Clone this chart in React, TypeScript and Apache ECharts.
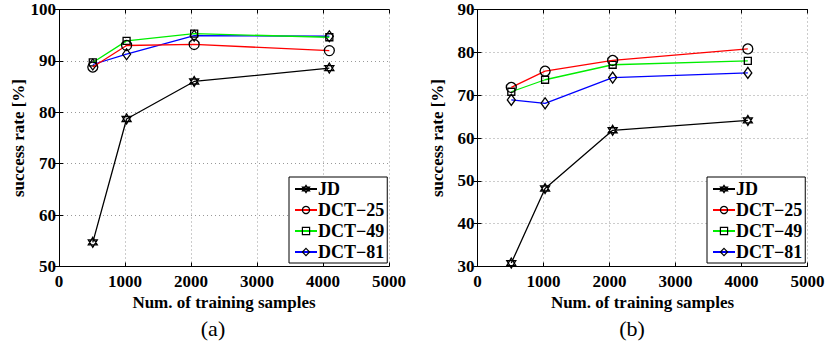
import React, { useEffect, useRef } from "react";
import * as echarts from "echarts";

const samples = [512, 1024, 2048, 4096];
const xTicks = [0, 1000, 2000, 3000, 4000, 5000];
const seriesNames = ["JD", "DCT\u221225", "DCT\u221249", "DCT\u221281"];

const jdA = [54.7, 78.7, 86.0, 88.6];
const dct25A = [88.8, 93.0, 93.2, 92.0];
const dct49A = [89.7, 93.9, 95.3, 94.6];
const dct81A = [89.3, 91.3, 94.9, 94.8];

const jdB = [30.8, 48.2, 61.8, 64.1];
const dct25B = [71.8, 75.6, 78.1, 80.8];
const dct49B = [70.8, 73.6, 77.1, 78.0];
const dct81B = [68.9, 68.1, 74.1, 75.2];

const lineColors = ["#000000", "#ff0000", "#00ee00", "#0000ff"];
const hexagram =
  "path://M5,0 L9.33,7.5 L0.67,7.5 Z M5,10 L0.67,2.5 L9.33,2.5 Z";
const symbols = [hexagram, "circle", "rect", "diamond"];
const symbolSizes: any[] = [[9, 10], 10, 7, [8, 11]];

const FONT = "Liberation Serif";

export default function App() {
  const ref = useRef<HTMLDivElement>(null);
  useEffect(() => {
    if (!ref.current) return;
    const chart = echarts.init(ref.current, undefined, { renderer: "svg" });
    const grids = [
      { left: 59, top: 9.5, width: 330, height: 257 },
      { left: 477.5, top: 9.5, width: 330, height: 257 },
    ];
    const yRanges = [
      [50, 100],
      [30, 90],
    ];
    const data = [
      [jdA, dct25A, dct49A, dct81A],
      [jdB, dct25B, dct49B, dct81B],
    ];
    const labelStyle = {
      fontFamily: FONT,
      fontWeight: "bold" as const,
      fontSize: 17,
      color: "#000",
    };
    const xAxes: any[] = [];
    const yAxes: any[] = [];
    const series: any[] = [];
    [0, 1].forEach((g) => {
      xAxes.push({
        type: "value",
        gridIndex: g,
        min: xTicks[0],
        max: xTicks[xTicks.length - 1],
        interval: 1000,
        name: "Num. of training samples",
        nameLocation: "middle",
        nameGap: 20,
        nameTextStyle: { ...labelStyle, verticalAlign: "top" },
        axisLine: { show: true, lineStyle: { color: "#000", width: 1 } },
        axisTick: { show: true, inside: true, length: 4, lineStyle: { color: "#000" } },
        axisLabel: {
          ...labelStyle,
          margin: 6,
          formatter: (v: number) => String(v),
        },
        splitLine: { show: true, lineStyle: { color: "#999", type: [1, 3], width: 1 } },
      });
      xAxes.push({
        type: "value",
        gridIndex: g,
        position: "top",
        min: xTicks[0],
        max: xTicks[xTicks.length - 1],
        interval: 1000,
        axisLine: { show: true, lineStyle: { color: "#000", width: 1 } },
        axisTick: { show: true, inside: true, length: 4, lineStyle: { color: "#000" } },
        axisLabel: { show: false },
        splitLine: { show: false },
      });
      yAxes.push({
        type: "value",
        gridIndex: g,
        min: yRanges[g][0],
        max: yRanges[g][1],
        interval: 10,
        name: "success rate [%]",
        nameLocation: "middle",
        nameGap: 32,
        nameRotate: 90,
        nameTextStyle: { ...labelStyle },
        axisLine: { show: true, lineStyle: { color: "#000", width: 1 } },
        axisTick: { show: true, inside: true, length: 4, lineStyle: { color: "#000" } },
        axisLabel: { ...labelStyle, margin: 3, formatter: (v: number) => String(v) },
        splitLine: { show: true, lineStyle: { color: "#999", type: [1, 3], width: 1 } },
      });
      yAxes.push({
        type: "value",
        gridIndex: g,
        position: "right",
        min: yRanges[g][0],
        max: yRanges[g][1],
        interval: 10,
        axisLine: { show: true, lineStyle: { color: "#000", width: 1 } },
        axisTick: { show: true, inside: true, length: 4, lineStyle: { color: "#000" } },
        axisLabel: { show: false },
        splitLine: { show: false },
      });
      seriesNames.forEach((name, i) => {
        series.push({
          type: "line",
          name,
          xAxisIndex: g * 2,
          yAxisIndex: g * 2,
          data: samples.map((x, k) => [x, data[g][i][k]]),
          symbol: symbols[i],
          symbolSize: symbolSizes[i],
          showAllSymbol: true,
          lineStyle: { color: lineColors[i], width: 1.3 },
          itemStyle: { color: "transparent", borderColor: "#000", borderWidth: 1.3 },
          z: 2 + (3 - i),
        });
      });
    });
    const legendBase = {
      orient: "vertical",
      data: seriesNames,
      backgroundColor: "#fff",
      borderColor: "#000",
      borderWidth: 1,
      borderRadius: 0,
      padding: [3, 3, 2, 5],
      itemWidth: 22,
      itemHeight: 9,
      itemGap: 3,
      selectedMode: false,
      itemStyle: { color: "transparent", borderColor: "#000", borderWidth: 1.2 },
      textStyle: {
        fontFamily: FONT,
        fontWeight: "bold",
        fontSize: 18,
        lineHeight: 18,
        color: "#000",
        padding: [0, 0, 0, -4],
      },
    };
    chart.setOption({
      animation: false,
      grid: grids,
      xAxis: xAxes,
      yAxis: yAxes,
      series,
      legend: [
        { ...legendBase, left: 289, top: 177 },
        { ...legendBase, left: 707, top: 177 },
      ],
      graphic: [
        {
          type: "text",
          x: 213,
          y: 328,
          style: {
            text: "(a)",
            font: "22px " + FONT,
            fill: "#000",
            align: "center",
            verticalAlign: "middle",
          },
        },
        {
          type: "text",
          x: 632,
          y: 328,
          style: {
            text: "(b)",
            font: "22px " + FONT,
            fill: "#000",
            align: "center",
            verticalAlign: "middle",
          },
        },
      ],
    });
    return () => chart.dispose();
  }, []);
  return (
    <div
      ref={ref}
      style={{ position: "fixed", left: 0, top: 0, width: 828, height: 343, background: "#fff" }}
    />
  );
}
